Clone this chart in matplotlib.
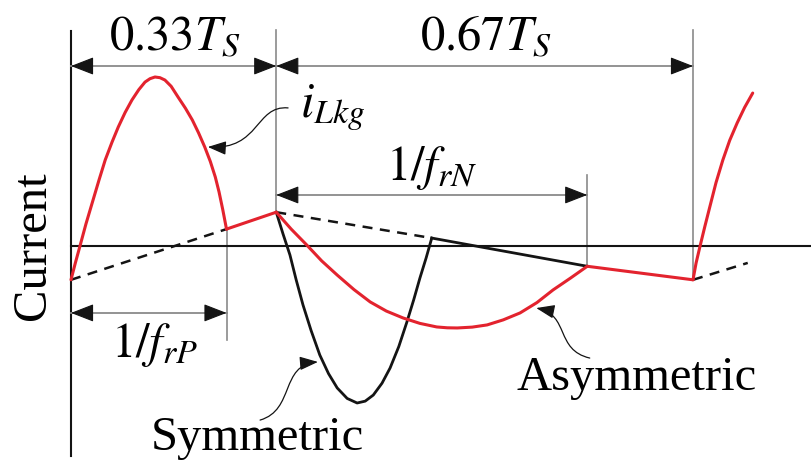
import matplotlib
matplotlib.use("Agg")
import matplotlib.pyplot as plt
from matplotlib.path import Path
from matplotlib.patches import FancyArrowPatch

plt.rcParams["font.family"] = ["Liberation Serif", "DejaVu Serif"]
plt.rcParams["mathtext.fontset"] = "stix"

# Time in units of the switching period Ts, current normalised to the peak
T_POS = 0.33          # positive half interval (0.33 Ts)
T_END = 1.0           # end of period
T_RP = 0.25           # 1/f_rP
T_RN = 0.83           # 0.33 Ts + 1/f_rN

# Positive resonant pulse of i_Lkg
pulse_t = [0.0, 0.007, 0.014, 0.024, 0.034, 0.045, 0.055, 0.066, 0.076,
           0.087, 0.098, 0.109, 0.119, 0.127, 0.135, 0.143, 0.151, 0.161,
           0.172, 0.184, 0.195, 0.205, 0.215, 0.224, 0.232, 0.238, 0.244,
           0.25]
pulse_i = [-0.20, -0.10, -0.006, 0.13, 0.254, 0.39, 0.509, 0.615, 0.704,
           0.790, 0.864, 0.925, 0.970, 0.990, 1.0, 0.996, 0.982, 0.945,
           0.882, 0.815, 0.746, 0.670, 0.586, 0.500, 0.408, 0.320, 0.215,
           0.10]

# Magnetizing-slope segment after the positive pulse
ramp_t = [0.25, 0.33]
ramp_i = [0.10, 0.20]

# Asymmetric negative half (red)
asym_t = [0.33, 0.354, 0.379, 0.403, 0.428, 0.455, 0.481, 0.507, 0.534,
          0.561, 0.588, 0.605, 0.621, 0.645, 0.669, 0.695, 0.722, 0.749,
          0.775, 0.803, 0.83]
asym_i = [0.20, 0.10, 0.006, -0.088, -0.172, -0.258, -0.331, -0.385,
          -0.426, -0.458, -0.479, -0.484, -0.485, -0.480, -0.467, -0.437,
          -0.396, -0.335, -0.260, -0.190, -0.12]

# Red linear tail to the end of the period
tail_t = [0.83, 1.0]
tail_i = [-0.12, -0.20]

# Symmetric negative pulse (black)
sym_t = [0.33, 0.341, 0.352, 0.362, 0.373, 0.386, 0.400, 0.414, 0.428,
         0.444, 0.460, 0.473, 0.486, 0.500, 0.513, 0.527, 0.540, 0.551,
         0.561, 0.571, 0.58]
sym_i = [0.20, 0.07, -0.053, -0.20, -0.349, -0.500, -0.645, -0.755, -0.840,
         -0.902, -0.929, -0.918, -0.882, -0.812, -0.722, -0.595, -0.450,
         -0.318, -0.189, -0.070, 0.047]
sym_tail_t = [0.58, 0.83]
sym_tail_i = [0.047, -0.12]

# Dashed magnetizing current segments
dash1_t, dash1_i = [0.0, 0.25], [-0.20, 0.10]
dash2_t, dash2_i = [0.33, 0.58], [0.20, 0.047]
dash3_t, dash3_i = [1.0, 1.088], [-0.20, -0.10]

# Rise at the start of the next period
next_t = [1.0, 1.005, 1.011, 1.019, 1.027, 1.037, 1.048, 1.059, 1.071,
          1.083, 1.096]
next_i = [-0.20, -0.10, -0.006, 0.115, 0.231, 0.375, 0.509, 0.625, 0.728,
          0.820, 0.905]

RED = "#e3232e"
BLACK = "#141414"
GRAY = "#8a8a8a"
FS = 35

fig = plt.figure(figsize=(8.11, 4.67), dpi=100)
ax = fig.add_axes([0, 0, 1, 1])
ax.set_xlim(-71 / 622, 740 / 622)
ax.set_ylim(-221 / 169, 246 / 169)
ax.axis("off")

# Axes of the sketch
ax.plot([0, 0], [-1.24, 1.27], color=BLACK, lw=1.5, zorder=2)
ax.plot([0, 1.19], [0, 0], color=BLACK, lw=1.5, zorder=2)

# Gray guide lines
ax.plot([T_POS, T_POS], [0.20, 1.28], color=GRAY, lw=1.2, zorder=1)
ax.plot([T_END, T_END], [-0.20, 1.28], color=GRAY, lw=1.2, zorder=1)
ax.plot([T_RP, T_RP], [0.10, -0.556], color=GRAY, lw=1.2, zorder=1)
ax.plot([T_RN, T_RN], [-0.12, 0.42], color=GRAY, lw=1.2, zorder=1)


def dim_arrow(x0, x1, y):
    ax.plot([x0, x1], [y, y], color=GRAY, lw=1.3, zorder=3)
    d = 0.03
    for xa, xb in ((x0 + d, x0), (x1 - d, x1)):
        ax.annotate("", xy=(xb, y), xytext=(xa, y),
                    arrowprops=dict(arrowstyle="-|>,head_length=0.9,head_width=0.35",
                                    color=BLACK, lw=0.8, shrinkA=0, shrinkB=0,
                                    mutation_scale=16), zorder=4)


dim_arrow(0, T_POS, 1.065)
dim_arrow(T_POS, T_END, 1.065)
dim_arrow(T_POS, T_RN, 0.302)
dim_arrow(0, T_RP, -0.396)

# Waveforms
ax.plot(dash1_t, dash1_i, color=BLACK, lw=1.8, ls=(0, (4, 3)), zorder=4)
ax.plot(dash2_t, dash2_i, color=BLACK, lw=1.8, ls=(0, (4, 3)), zorder=4)
ax.plot(dash3_t, dash3_i, color=BLACK, lw=1.8, ls=(0, (4, 3)), zorder=4)
ax.plot(sym_t, sym_i, color=BLACK, lw=2.0, zorder=5, solid_joinstyle="round")
ax.plot(sym_tail_t, sym_tail_i, color=BLACK, lw=2.0, zorder=5)
for tt, ii in ((pulse_t, pulse_i), (ramp_t, ramp_i), (asym_t, asym_i),
               (tail_t, tail_i), (next_t, next_i)):
    ax.plot(tt, ii, color=RED, lw=2.2, zorder=6, solid_joinstyle="round",
            solid_capstyle="round")


def pointer(pts):
    path = Path(pts, [Path.MOVETO, Path.CURVE4, Path.CURVE4, Path.CURVE4])
    arr = FancyArrowPatch(path=path,
                          arrowstyle="-|>,head_length=0.8,head_width=0.3",
                          mutation_scale=14, color=BLACK, lw=0.9,
                          shrinkA=0, shrinkB=0, zorder=7)
    ax.add_patch(arr)


pointer([(0.349, 0.817), (0.296, 0.834), (0.304, 0.568), (0.220, 0.586)])
pointer([(0.304, -1.030), (0.360, -0.970), (0.336, -0.704), (0.397, -0.686)])
pointer([(0.834, -0.663), (0.778, -0.615), (0.802, -0.408), (0.748, -0.367)])

# Labels
ax.text(0.167, 1.16, r"$0.33T_S$", fontsize=FS, ha="center", va="baseline")
ax.text(0.666, 1.16, r"$0.67T_S$", fontsize=FS, ha="center", va="baseline")
ax.text(0.580, 0.39, r"$1/f_{rN}$", fontsize=FS, ha="center", va="baseline")
ax.text(0.135, -0.657, r"$1/f_{rP}$", fontsize=FS, ha="center", va="baseline")
ax.text(0.368, 0.763, r"$i_{Lkg}$", fontsize=FS, ha="left", va="baseline")
ax.text(0.30, -1.207, "Symmetric", fontsize=FS, ha="center", va="baseline")
ax.text(0.91, -0.852, "Asymmetric", fontsize=FS, ha="center", va="baseline")
ax.text(-0.061, 0.0, "Current", fontsize=FS, ha="center", va="center",
        rotation=90)

fig.savefig("out.png", dpi=100)
